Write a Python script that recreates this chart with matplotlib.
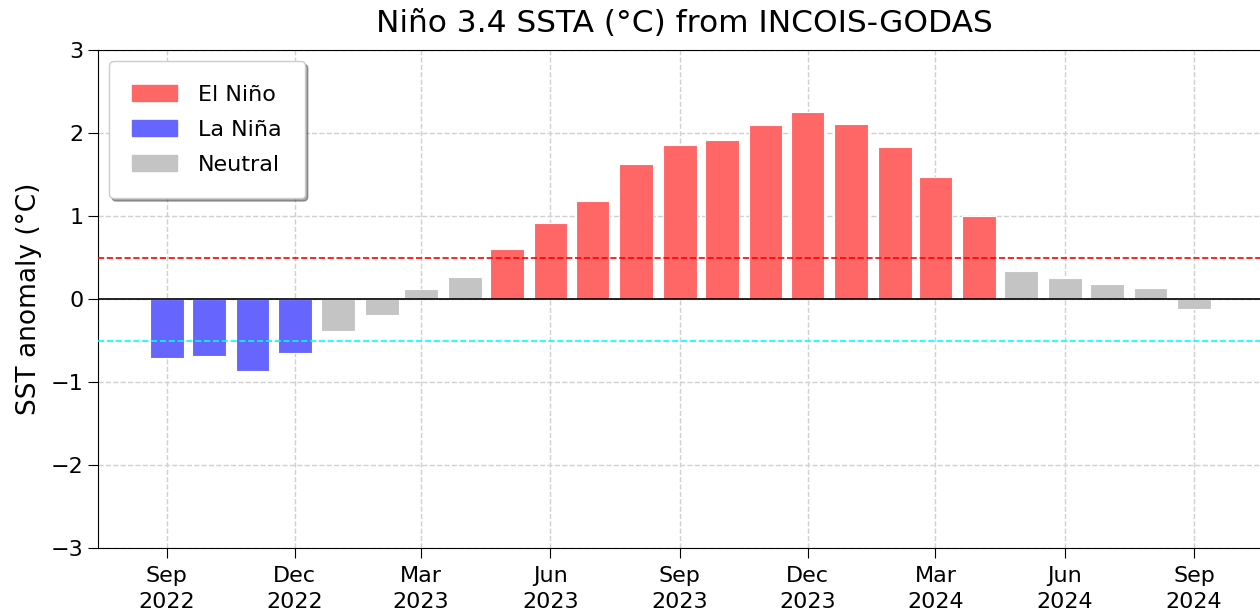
import datetime as dt
import matplotlib
matplotlib.use("Agg")
import matplotlib.pyplot as plt
import matplotlib.dates as mdates
from matplotlib.patches import Patch

# monthly Nino 3.4 SST anomaly, Sep 2022 .. Sep 2024
months = [dt.date(2022 + (8 + i) // 12, (8 + i) % 12 + 1, 1) for i in range(25)]
ssta = [-0.71, -0.68, -0.87, -0.65, -0.39, -0.19, 0.12, 0.27, 0.61, 0.92,
        1.18, 1.63, 1.86, 1.92, 2.10, 2.25, 2.11, 1.83, 1.47, 1.00,
        0.34, 0.26, 0.18, 0.13, -0.12]

RED = "#ff6666"
BLUE = "#6666ff"
GREY = "#c4c4c4"


def phase_colour(v):
    if v >= 0.5:
        return RED
    if v <= -0.5:
        return BLUE
    return GREY


fig = plt.figure(figsize=(12.6, 6.13), dpi=100)
ax = fig.add_axes([0.0778, 0.106, 0.93, 0.812])

colours = [phase_colour(v) for v in ssta]
ax.bar(months, ssta, width=24, color=colours, edgecolor="white", linewidth=0.8, zorder=3)

ax.axhline(0, color="black", linewidth=1.2, zorder=4)
ax.axhline(0.5, color="red", linestyle="--", linewidth=1.2, zorder=4)
ax.axhline(-0.5, color="cyan", linestyle="--", linewidth=1.2, zorder=4)

ax.set_ylim(-3, 3)
ax.set_xlim(dt.date(2022, 7, 14), dt.date(2024, 10, 25))
ax.xaxis.set_major_locator(mdates.MonthLocator(bymonth=[3, 6, 9, 12]))
ax.xaxis.set_major_formatter(mdates.DateFormatter("%b\n%Y"))
ax.tick_params(labelsize=16, length=7)
ax.tick_params(axis="x", pad=6)
for lab in ax.get_xticklabels():
    lab.set_linespacing(1.4)
ax.grid(True, linestyle="--", color="#d0d0d0", linewidth=1, zorder=0)
ax.set_axisbelow(True)

ax.set_ylabel("SST anomaly (°C)", fontsize=19, labelpad=6)
ax.set_title("Niño 3.4 SSTA (°C) from INCOIS-GODAS", fontsize=22.5, pad=13)

handles = [Patch(color=RED, label="El Niño"),
           Patch(color=BLUE, label="La Niña"),
           Patch(color=GREY, label="Neutral")]
ax.legend(handles=handles, loc="upper left", fontsize=16, shadow=True,
          borderpad=1.05, labelspacing=0.68, handletextpad=0.95, framealpha=1)

fig.savefig("out.png", dpi=100)
